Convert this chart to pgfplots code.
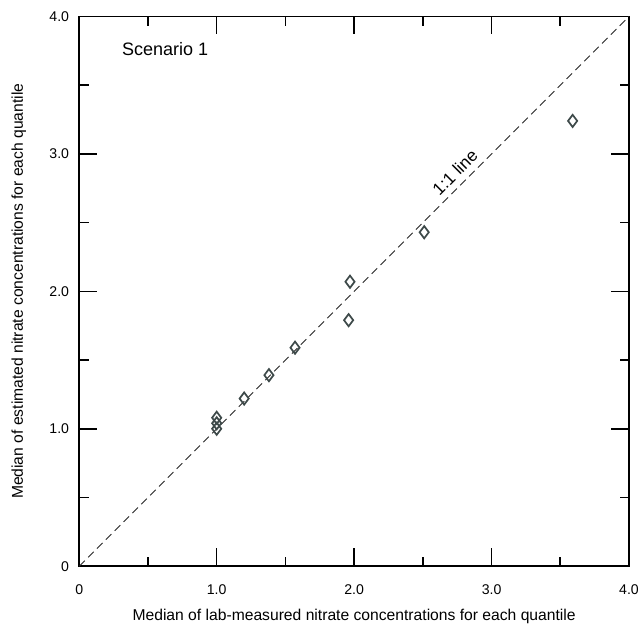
\documentclass[border={4pt 2pt 0pt 4pt}]{standalone}
\usepackage{fontspec}
\setmainfont{Liberation Sans}
\usepackage{pgfplots}
\pgfplotsset{compat=1.18}
\definecolor{cmark}{HTML}{3E4A4A}

\begin{document}
\begin{tikzpicture}
\begin{axis}[
    scale only axis,
    width=351pt, height=351pt,
    xmin=0, xmax=4, ymin=0, ymax=4,
    xtick={0,1,2,3,4}, ytick={0,1,2,3,4},
    xticklabels={0,1.0,2.0,3.0,4.0},
    yticklabels={0,1.0,2.0,3.0,4.0},
    minor xtick={0.5,1.5,2.5,3.5},
    minor ytick={0.5,1.5,2.5,3.5},
    tick align=inside,
    major tick length=11.5pt, minor tick length=6pt,
    every tick/.style={black, line width=1pt},
    axis line style={line width=1.1pt},
    tick label style={font=\fontsize{9}{10}\selectfont},
    xticklabel style={yshift=-8pt},
    yticklabel style={xshift=-3pt},
    /pgf/number format/assume math mode=true,
    xlabel={Median of lab-measured nitrate concentrations for each quantile},
    ylabel={Median of estimated nitrate concentrations for each quantile},
    label style={font=\fontsize{11.5}{13}\selectfont},
    every axis x label/.style={at={(axis description cs:0.5,-0.092)}, anchor=center},
    every axis y label/.style={at={(axis description cs:-0.11,0.5)}, rotate=90, anchor=center},
    clip=false,
]
% 1:1 line
\addplot[black!85, line width=0.6pt, dash pattern=on 5pt off 3pt] coordinates {(0,0) (4,4)};
% quantile medians
\addplot[only marks, mark=diamond, mark size=3.9pt, cmark, line width=1.1pt] coordinates {
    (1.00, 1.00) (1.00, 1.04) (1.00, 1.08)
    (1.20, 1.22) (1.38, 1.39) (1.57, 1.59)
    (1.96, 1.79) (1.97, 2.07) (2.51, 2.43)
    (3.59, 3.24)
};
\node[anchor=west, inner sep=0pt, font=\fontsize{11.5}{13}\selectfont] at (axis cs:0.31,3.76) {Scenario 1};
\node[rotate=45, anchor=south, inner sep=4pt, font=\fontsize{11}{13}\selectfont] at (axis cs:2.80,2.80) {1:1 line};
\end{axis}
\end{tikzpicture}
\end{document}
